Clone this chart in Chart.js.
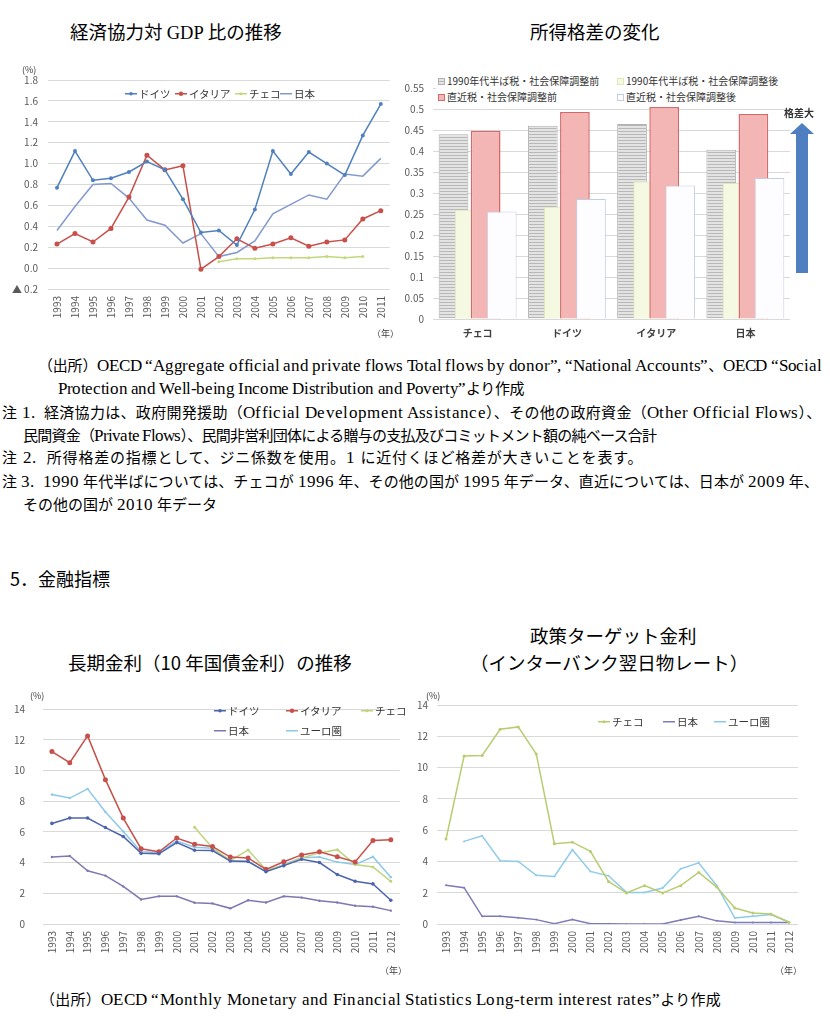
<!DOCTYPE html>
<html lang="ja">
<head>
<meta charset="utf-8">
<script src="https://cdn.jsdelivr.net/npm/chart.js@4.4.1/dist/chart.umd.min.js"></script>
<style>
  @font-face { font-family: "NoteLatin"; src: local("Liberation Serif"), local("LiberationSerif"); size-adjust: 113%; }
  body { margin: 0; background: #fff; }
  #page { position: relative; width: 830px; height: 1023px; overflow: hidden; font-family: "Noto Sans CJK JP", sans-serif; color: #111; }
  .abs { position: absolute; white-space: nowrap; line-height: 1; }
  .title { font-size: 18.5px; color: #000; }
  .serif { font-family: "Liberation Serif", serif; }
  .note { font-family: "NoteLatin", "Noto Sans CJK JP", serif; font-size: 15px; color: #000; }
  .unit { font-size: 9px; color: #404040; }
  .lg { position: absolute; white-space: nowrap; line-height: 1; font-size: 10.5px; color: #333; display: flex; align-items: center; transform: translateY(-50%); }
  .lg svg, .lg i { margin-right: 2px; }
  .lg i { display: inline-block; width: 7px; height: 7px; box-sizing: border-box; }
  canvas { position: absolute; }
</style>
</head>
<body>
<div id="page">
  <div class="abs title" style="left:70px;top:22px">経済協力対 <span class="serif">GDP</span> 比の推移</div>
  <div class="abs title" style="left:530px;top:22px">所得格差の変化</div>

  <canvas id="c1" width="400" height="290" style="left:0;top:60px"></canvas>
  <canvas id="c2" width="420" height="290" style="left:400px;top:60px"></canvas>
  <div class="abs unit" style="left:22px;top:65px">(%)</div>
  <div class="abs unit" style="left:372px;top:329px">（年）</div>

  <svg class="abs" style="left:790px;top:120px" width="26" height="156">
    <polygon points="12,3 24,14 18,14 18,153 6,153 6,14 0,14" fill="#4f7fc0"/>
  </svg>
  <div class="abs" style="left:784px;top:108px;font-size:10px;font-weight:bold;color:#333">格差大</div>

  <div class="abs note" style="left:38px;top:358px;letter-spacing:-0.2px">（出所）OECD “Aggregate official and private flows Total flows by donor”, “National Accounts”、OECD “Social</div>
  <div class="abs note" style="left:58px;top:381px;letter-spacing:-0.38px">Protection and Well-being Income Distribution and Poverty”より作成</div>
  <div class="abs note" style="left:2px;top:405px;letter-spacing:0.32px">注 1.&nbsp; 経済協力は、政府開発援助（Official Development Assistance）、その他の政府資金（Other Official Flows）、</div>
  <div class="abs note" style="left:23px;top:428px;letter-spacing:-0.75px">民間資金（Private Flows）、民間非営利団体による贈与の支払及びコミットメント額の純ベース合計</div>
  <div class="abs note" style="left:2px;top:450px;letter-spacing:0.8px">注 2.&nbsp; 所得格差の指標として、ジニ係数を使用。1 に近付くほど格差が大きいことを表す。</div>
  <div class="abs note" style="left:2px;top:474px;letter-spacing:0.1px">注 3.&nbsp; 1990 年代半ばについては、チェコが 1996 年、その他の国が 1995 年データ、直近については、日本が 2009 年、</div>
  <div class="abs note" style="left:23px;top:497px">その他の国が 2010 年データ</div>

  <div class="abs" style="left:10px;top:569px;font-size:18px;color:#000">5．金融指標</div>
  <div class="abs title" style="left:68px;top:653px">長期金利（10 年国債金利）の推移</div>
  <div class="abs title" style="left:530px;top:626px">政策ターゲット金利</div>
  <div class="abs title" style="left:470px;top:653px">（インターバンク翌日物レート）</div>

  <canvas id="c3" width="410" height="300" style="left:0;top:685px"></canvas>
  <canvas id="c4" width="410" height="300" style="left:410px;top:685px"></canvas>
  <div class="abs unit" style="left:30px;top:691px">(%)</div>
  <div class="abs unit" style="left:426px;top:691px">(%)</div>
  <div class="abs unit" style="left:380px;top:966px">（年）</div>
  <div class="abs unit" style="left:775px;top:966px">（年）</div>

  <div class="abs note" style="left:40px;top:992px;letter-spacing:0.25px">（出所）OECD “Monthly Monetary and Financial Statistics Long-term interest rates”より作成</div>
</div>
<script>
// 経済協力対GDP比 (%)
const coopYears = ['1993','1994','1995','1996','1997','1998','1999','2000','2001','2002',
  '2003','2004','2005','2006','2007','2008','2009','2010','2011'];
const coopGermany = [0.77,1.12,0.84,0.86,0.92,1.02,0.94,0.66,0.34,0.36,0.22,0.56,1.12,0.90,1.11,1.00,0.89,1.27,1.57];
const coopItaly   = [0.23,0.33,0.25,0.38,0.68,1.08,0.94,0.98,-0.01,0.11,0.28,0.19,0.23,0.29,0.21,0.25,0.27,0.47,0.55];
const coopCzech   = [null,null,null,null,null,null,null,null,null,0.06,0.09,0.09,0.10,0.10,0.10,0.11,0.10,0.11,null];
const coopJapan   = [0.36,0.59,0.80,0.81,0.67,0.46,0.41,0.24,0.33,0.11,0.15,0.26,0.52,0.61,0.70,0.66,0.90,0.88,1.05];

// ジニ係数
const giniCountries   = ['チェコ','ドイツ','イタリア','日本'];
const giniMid90Before = [0.440,0.460,0.464,0.403];
const giniMid90After  = [0.260,0.267,0.328,0.324];
const giniLastBefore  = [0.448,0.493,0.505,0.488];
const giniLastAfter   = [0.256,0.286,0.318,0.336];

// 長期金利 (%)
const rateYears = ['1993','1994','1995','1996','1997','1998','1999','2000','2001','2002',
  '2003','2004','2005','2006','2007','2008','2009','2010','2011','2012'];
const longGermany = [6.55,6.90,6.90,6.28,5.70,4.60,4.57,5.30,4.80,4.78,4.10,4.07,3.40,3.80,4.22,4.00,3.22,2.78,2.61,1.55];
const longItaly   = [11.23,10.50,12.25,9.40,6.90,4.90,4.70,5.60,5.20,5.05,4.36,4.30,3.56,4.05,4.50,4.70,4.38,4.04,5.44,5.49];
const longCzech   = [null,null,null,null,null,null,null,null,6.30,4.95,4.12,4.82,3.54,3.80,4.30,4.63,4.84,3.88,3.71,2.78];
const longJapan   = [4.36,4.43,3.47,3.15,2.45,1.60,1.80,1.80,1.38,1.34,1.02,1.55,1.40,1.80,1.72,1.51,1.40,1.19,1.13,0.87];
const longEuro    = [8.43,8.20,8.80,7.30,6.02,4.70,4.66,5.40,5.00,4.93,4.10,4.09,3.43,3.88,4.32,4.36,4.03,3.87,4.38,3.05];

// 政策金利 (%)
const policyCzech = [5.43,10.74,10.77,12.45,12.60,10.87,5.13,5.23,4.64,2.72,1.98,2.45,1.98,2.45,3.30,2.36,1.02,0.70,0.64,0.11];
const policyJapan = [2.47,2.32,0.49,0.49,0.40,0.28,0.02,0.28,0.02,0.01,0.00,0.00,0.00,0.25,0.49,0.20,0.10,0.10,0.10,0.10];
const policyEuro  = [null,5.28,5.64,4.04,4.00,3.11,3.04,4.74,3.36,3.08,2.02,2.02,2.30,3.53,3.91,2.45,0.38,0.49,0.60,0.13];

Chart.defaults.font.family = '"Noto Sans CJK JP", sans-serif';
Chart.defaults.font.size = 10;
Chart.defaults.color = '#595959';

const page = document.getElementById('page');

function line(label, data, color, radius) {
  return { label, data, borderColor: color, backgroundColor: color, borderWidth: 1.5,
    pointRadius: radius, pointBorderWidth: 0, tension: 0 };
}

function lineOptions(yMin, yMax, step, yWidth, yPad, padding, fmt) {
  return {
    responsive: false, animation: false,
    layout: { padding },
    plugins: { legend: { display: false }, tooltip: { enabled: false } },
    scales: {
      x: { offset: true, grid: { display: false, drawTicks: false }, border: { display: false },
        ticks: { autoSkip: false, minRotation: 90, maxRotation: 90, padding: 7 },
        afterFit: s => { s.height = 40; } },
      y: { min: yMin, max: yMax, border: { display: false },
        grid: { color: '#d9d9d9', drawTicks: false },
        ticks: { stepSize: step, padding: yPad, callback: fmt },
        afterFit: s => { s.width = yWidth; } }
    }
  };
}

// html legend for the line charts, colours taken from the series
function legend(items) {
  items.forEach(it => {
    const el = document.createElement('div');
    el.className = 'lg';
    el.style.left = it.x + 'px';
    el.style.top = it.y + 'px';
    const mark = it.r ? `<circle cx="6" cy="4" r="${it.r}" fill="${it.color}"/>` : '';
    el.innerHTML = `<svg width="12" height="8"><line x1="0" y1="4" x2="12" y2="4" stroke="${it.color}" stroke-width="1.5"/>${mark}</svg>${it.label}`;
    page.appendChild(el);
  });
}

// chart 1
const c1 = { de: '#4f81bd', it: '#c8504a', cz: '#c3d77e', jp: '#8399cf' };
new Chart(document.getElementById('c1'), {
  type: 'line',
  data: { labels: coopYears, datasets: [
    line('ドイツ', coopGermany, c1.de, 2),
    line('イタリア', coopItaly, c1.it, 2.5),
    line('チェコ', coopCzech, c1.cz, 1.5),
    line('日本', coopJapan, c1.jp, 0)
  ] },
  options: lineOptions(-0.2, 1.8, 0.2, 48, 10, { top: 20, right: 8, bottom: 21, left: 0 },
    v => v < -0.01 ? '▲ ' + Math.abs(v).toFixed(1) : Math.abs(v).toFixed(1))
});
legend([
  { x: 125, y: 94, label: 'ドイツ', color: c1.de, r: 1.8 },
  { x: 175, y: 94, label: 'イタリア', color: c1.it, r: 2.2 },
  { x: 235, y: 94, label: 'チェコ', color: c1.cz, r: 1.5 },
  { x: 280, y: 94, label: '日本', color: c1.jp }
]);

// chart 2
const stripe = document.createElement('canvas');
stripe.width = 4; stripe.height = 3;
const sctx = stripe.getContext('2d');
sctx.fillStyle = '#e3e3e3'; sctx.fillRect(0, 0, 4, 3);
sctx.fillStyle = '#b8b8b8'; sctx.fillRect(0, 2, 4, 1);
const grayPattern = sctx.createPattern(stripe, 'repeat');

// later series sit on top of earlier ones, like the original
const drawInIndexOrder = {
  id: 'drawInIndexOrder',
  beforeDatasetsDraw(chart) {
    chart.data.datasets.forEach((d, i) => chart.getDatasetMeta(i).controller.draw());
    return false;
  }
};

new Chart(document.getElementById('c2'), {
  type: 'bar',
  data: { labels: giniCountries, datasets: [
    { label: '1990年代半ば税・社会保障調整前', data: giniMid90Before, backgroundColor: grayPattern, borderColor: '#b0b0b0', borderWidth: 1 },
    { label: '1990年代半ば税・社会保障調整後', data: giniMid90After, backgroundColor: '#f6f9e2', borderColor: '#dfe8b8', borderWidth: 1 },
    { label: '直近税・社会保障調整前', data: giniLastBefore, backgroundColor: '#f4b5b5', borderColor: '#d46a6a', borderWidth: 1.5 },
    { label: '直近税・社会保障調整後', data: giniLastAfter, backgroundColor: '#fdfdff', borderColor: '#c3cde0', borderWidth: 1 }
  ] },
  options: {
    responsive: false, animation: false,
    layout: { padding: { top: 28, right: 30, bottom: 11, left: 0 } },
    datasets: { bar: { categoryPercentage: 0.72, barPercentage: 1.85 } },
    plugins: { legend: { display: false }, tooltip: { enabled: false } },
    scales: {
      x: { grid: { display: false, drawTicks: false }, border: { display: false },
        ticks: { padding: 8, color: '#404040', font: { weight: 'bold' } },
        afterFit: s => { s.height = 20; } },
      y: { min: 0, max: 0.55, border: { display: false },
        grid: { color: '#d9d9d9', drawTicks: false },
        ticks: { stepSize: 0.05, padding: 9, callback: v => String(Math.round(v * 100) / 100) },
        afterFit: s => { s.width = 33; } }
    }
  },
  plugins: [drawInIndexOrder]
});
const box = document.createElement('div');
box.className = 'abs';
box.style.cssText = 'left:436px;top:72px;width:356px;height:34px;background:#fff';
page.appendChild(box);
[
  { x: 438, y: 81, label: '1990年代半ば税・社会保障調整前', css: 'background:repeating-linear-gradient(#e3e3e3 0 2px,#b8b8b8 2px 3px);border:1px solid #b0b0b0' },
  { x: 617, y: 81, label: '1990年代半ば税・社会保障調整後', css: 'background:#f6f9e2;border:1px solid #dfe8b8' },
  { x: 438, y: 97, label: '直近税・社会保障調整前', css: 'background:#f4b5b5;border:1px solid #d46a6a' },
  { x: 617, y: 97, label: '直近税・社会保障調整後', css: 'background:#fdfdff;border:1px solid #c3cde0' }
].forEach(it => {
  const el = document.createElement('div');
  el.className = 'lg';
  el.style.left = it.x + 'px';
  el.style.top = it.y + 'px';
  el.style.fontSize = '10px';
  el.innerHTML = `<i style="${it.css}"></i>${it.label}`;
  page.appendChild(el);
});

// chart 3
const c3 = { de: '#4d65ad', it: '#c8504a', cz: '#bfd47c', jp: '#7f78b0', eu: '#8cc8e8' };
new Chart(document.getElementById('c3'), {
  type: 'line',
  data: { labels: rateYears, datasets: [
    line('ドイツ', longGermany, c3.de, 1.8),
    line('イタリア', longItaly, c3.it, 2.5),
    line('チェコ', longCzech, c3.cz, 1.5),
    line('日本', longJapan, c3.jp, 1.2),
    line('ユーロ圏', longEuro, c3.eu, 1.2)
  ] },
  options: lineOptions(0, 14, 2, 43, 18, { top: 20, right: 8, bottom: 21, left: 0 }, v => v)
});
legend([
  { x: 214, y: 711, label: 'ドイツ', color: c3.de, r: 1.8 },
  { x: 286, y: 711, label: 'イタリア', color: c3.it, r: 2.2 },
  { x: 361, y: 711, label: 'チェコ', color: c3.cz, r: 1.5 },
  { x: 214, y: 731, label: '日本', color: c3.jp },
  { x: 286, y: 731, label: 'ユーロ圏', color: c3.eu }
]);

// chart 4
const c4 = { cz: '#b8cd70', jp: '#7c7cb8', eu: '#8ecbea' };
new Chart(document.getElementById('c4'), {
  type: 'line',
  data: { labels: rateYears, datasets: [
    line('チェコ', policyCzech, c4.cz, 1.5),
    line('日本', policyJapan, c4.jp, 1),
    line('ユーロ圏', policyEuro, c4.eu, 1)
  ] },
  options: lineOptions(0, 14, 2, 27, 9, { top: 20, right: 22, bottom: 21, left: 0 }, v => v)
});
legend([
  { x: 598, y: 722, label: 'チェコ', color: c4.cz, r: 1.5 },
  { x: 663, y: 722, label: '日本', color: c4.jp },
  { x: 714, y: 722, label: 'ユーロ圏', color: c4.eu }
]);
</script>
</body>
</html>
